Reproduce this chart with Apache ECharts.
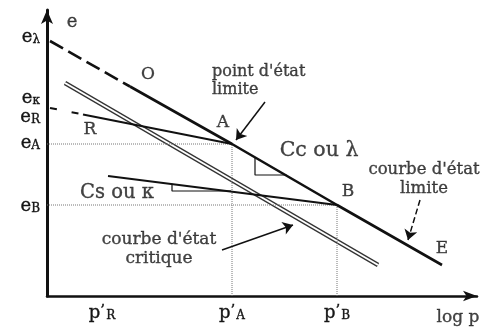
<!DOCTYPE html>
<html>
<head>
<meta charset="utf-8">
<script src="https://cdn.jsdelivr.net/npm/echarts@6/dist/echarts.min.js"></script>
<style>
  html, body { margin: 0; padding: 0; background: #fff; }
  #chart { width: 485px; height: 329px; }
</style>
</head>
<body>
<div id="chart"></div>
<script>
// Schematic e – log p' diagram (units are arbitrary, log p on x, void ratio e on y)

// Key states
const pointA = [185, 152];
const pointB = [290, 91];

// Normal consolidation / limit state line (O – A – B – E)
const nclDashed = [[3, 255], [83, 209.5]];
const nclSolid = [[83, 209.5], pointA, pointB, [395, 31]];

// Swelling line through A (from R)
const swellADashed = [[3, 188], [36, 181.5]];
const swellASolid = [[36, 181.5], pointA];

// Swelling line through B
const swellB = [[61, 120], pointB];

// Critical state line
const csl = [[18, 213], [331, 31]];

// Slope triangles
const triCc = [[208, 138.9], [208, 121], [239.5, 121]];
const triCs = [[125, 112.2], [125, 105], [184, 105]];

// Axis tick positions and labels
const xTickValues = [55, 185, 290];
const xTickNames = ['R', 'A', 'B'];
const yTickValues = [259, 198, 179, 153, 90];
const yTickNames = ['λ', 'κ', 'R', 'A', 'B'];

// Arrows [from, to]
const arrows = [
  [[218, 194], [189, 156]],
  [[373, 96], [361, 56]],
  [[175, 46], [246, 71]]
];

// Text annotations: [x, y, text, fontSize, align]
const notes = [
  [25, 274, 'e', 18, 'center'],
  [411, -22, 'log p', 17, 'center'],
  [101, 221, 'O', 17, 'center'],
  [43, 166, 'R', 17, 'center'],
  [176, 173, 'A', 17, 'center'],
  [301, 104, 'B', 17, 'center'],
  [395, 47, 'E', 17, 'center'],
  [165, 215, "point d'état\nlimite", 16, 'left'],
  [272, 145, 'Cc ou λ', 20.5, 'center'],
  [377, 117, "courbe d'état\nlimite", 16.5, 'center'],
  [70, 103, 'Cs ou κ', 19.5, 'center'],
  [112, 47, "courbe d'état\ncritique", 17, 'center']
];

const FONT = 'DejaVu Serif';
const INK = '#111';
const TEXT = '#151515';
// a thin outline in the text colour gives the heavier print weight
const HEAVY = { textBorderColor: TEXT, textBorderWidth: 0.35 };

function line(data, width, extra) {
  return Object.assign({
    type: 'line',
    data: data,
    symbol: 'none',
    silent: true,
    clip: false,
    lineStyle: { color: INK, width: width }
  }, extra || {});
}

function txt(size, more) {
  return Object.assign({ fontFamily: FONT, fontSize: size, color: TEXT }, HEAVY, more || {});
}

const series = [
  // critical state line: drawn as a hollow double line
  line(csl, 4.5, { lineStyle: { color: '#333', width: 4.5 } }),
  line(csl, 2, { lineStyle: { color: '#fff', width: 2 } }),
  // guides to A and B
  line([[0, pointA[1]], pointA, [pointA[0], 0]], 1, { lineStyle: { color: '#777', width: 1, type: [1, 1] } }),
  line([[0, pointB[1]], pointB, [pointB[0], 0]], 1, { lineStyle: { color: '#777', width: 1, type: [1, 1] } }),
  // limit state line
  line(nclDashed, 2.6, { lineStyle: { color: INK, width: 2.6, type: [15, 6] } }),
  line(nclSolid, 2.6),
  // swelling lines
  line(swellADashed, 2, { lineStyle: { color: INK, width: 2, type: [7, 15] } }),
  line(swellASolid, 2),
  line(swellB, 2),
  // slope triangles
  line(triCc, 1.2),
  line(triCs, 1.2),
  // arrows
  {
    type: 'lines',
    coordinateSystem: 'cartesian2d',
    silent: true,
    symbol: ['none', 'arrow'],
    symbolSize: 10,
    lineStyle: { color: INK, width: 1.5, opacity: 1 },
    data: arrows.map(function (a, i) {
      return {
        coords: a,
        lineStyle: i === 1 ? { type: [6, 3] } : {}
      };
    })
  },
  // text annotations
  {
    type: 'scatter',
    silent: true,
    clip: false,
    symbolSize: 0,
    data: notes.map(function (n) {
      return {
        value: [n[0], n[1]],
        name: n[2],
        label: Object.assign({
          show: true,
          position: 'inside',
          formatter: n[2],
          align: n[4],
          lineHeight: n[3] + 2
        }, txt(n[3]))
      };
    })
  }
];

const chart = echarts.init(document.getElementById('chart'), null, { renderer: 'canvas' });
chart.setOption({
  animation: false,
  backgroundColor: '#fff',
  grid: { left: 47, right: 8, top: 10, bottom: 33 },
  xAxis: {
    type: 'value',
    min: 0,
    max: 430,
    splitLine: { show: false },
    axisLine: {
      onZero: false,
      symbol: ['none', 'arrow'],
      symbolSize: [8, 14],
      lineStyle: { color: INK, width: 2.5 }
    },
    axisTick: { show: false },
    axisLabel: {
      customValues: xTickValues,
      margin: 8,
      formatter: function (v) {
        const i = xTickValues.indexOf(v);
        return '{p|p}{q|\u2019}{s|' + xTickNames[i] + '}';
      },
      rich: {
        p: txt(18),
        q: txt(15, { verticalAlign: 'top' }),
        s: txt(12, { padding: [6, 0, 0, 1] })
      }
    }
  },
  yAxis: {
    type: 'value',
    min: 0,
    max: 286,
    splitLine: { show: false },
    axisLine: {
      onZero: false,
      symbol: ['none', 'arrow'],
      symbolSize: [9, 14],
      lineStyle: { color: INK, width: 3 }
    },
    axisTick: { show: false },
    axisLabel: {
      customValues: yTickValues,
      margin: 7,
      formatter: function (v) {
        const i = yTickValues.indexOf(v);
        return '{e|e}{s|' + yTickNames[i] + '}';
      },
      rich: {
        e: txt(18),
        s: txt(12, { padding: [6, 0, 0, 0] })
      }
    }
  },
  series: series
});
</script>
</body>
</html>
